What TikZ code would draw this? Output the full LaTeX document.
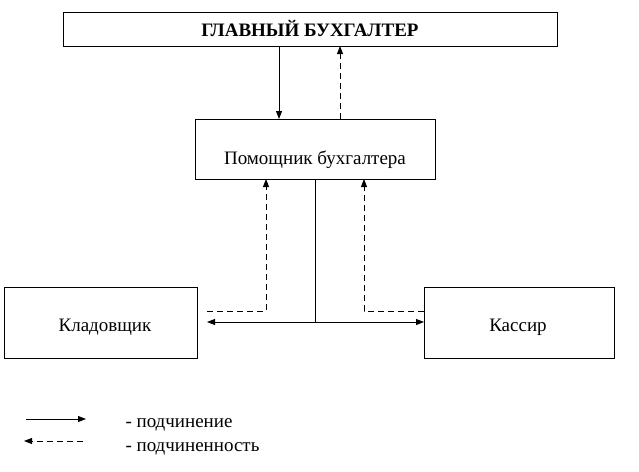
\documentclass[tikz,border=0pt]{standalone}
\usepackage{fontspec}
\setmainfont{Liberation Serif}
\usetikzlibrary{arrows.meta}
\begin{document}
\begin{tikzpicture}[x=1pt,y=-1pt,
  box/.style={draw,line width=0.9pt,inner sep=0pt},
  lbl/.style={font=\fontsize{19}{21}\selectfont},
  sub/.style={line width=0.9pt,-{Triangle[length=8pt,width=6pt]}},
  subd/.style={line width=0.9pt,dash pattern=on 6pt off 4pt,-{Triangle[length=8pt,width=6pt]}}]
\useasboundingbox (0,0) rectangle (639,471);
\node[box,minimum width=494pt,minimum height=34pt] (gb) at (310,29) {};
\node[font=\bfseries\fontsize{19}{21}\selectfont] (gbt) at (310,29) {ГЛАВНЫЙ БУХГАЛТЕР};
\node[box,minimum width=240pt,minimum height=60pt] (pb) at (315,149) {};
\node[lbl] (pbt) at (315,160) {Помощник бухгалтера};
\node[box,minimum width=193pt,minimum height=71pt] (kl) at (100.5,322.5) {};
\node[lbl] (klt) at (105,327) {Кладовщик};
\node[box,minimum width=190pt,minimum height=71pt] (ks) at (519,322.5) {};
\node[lbl] (kst) at (518,327) {Кассир};
% top connectors
\draw[sub] (279,46) -- (279,119);
\draw[subd] (340,119) -- (340,46);
% bottom
\coordinate (j) at (315,322);
\draw[line width=0.9pt] (315,179) -- (j);
\draw[sub] (j) -- (207,322);
\draw[sub] (j) -- (424,322);
\draw[subd] (207,311) -- (266,311) -- (266,179);
\draw[subd] (424,311) -- (364,311) -- (364,179);
% legend
\coordinate (l1a) at (26,419); \coordinate (l1b) at (86,419);
\coordinate (l2a) at (83,441); \coordinate (l2b) at (24,441);
\draw[sub] (l1a) -- (l1b);
\draw[subd] (l2a) -- (l2b);
\node[lbl,anchor=west] (t1) at (122,425) {- подчинение};
\node[lbl,anchor=west] (t2) at (122,449) {- подчиненность};
\end{tikzpicture}
\end{document}
